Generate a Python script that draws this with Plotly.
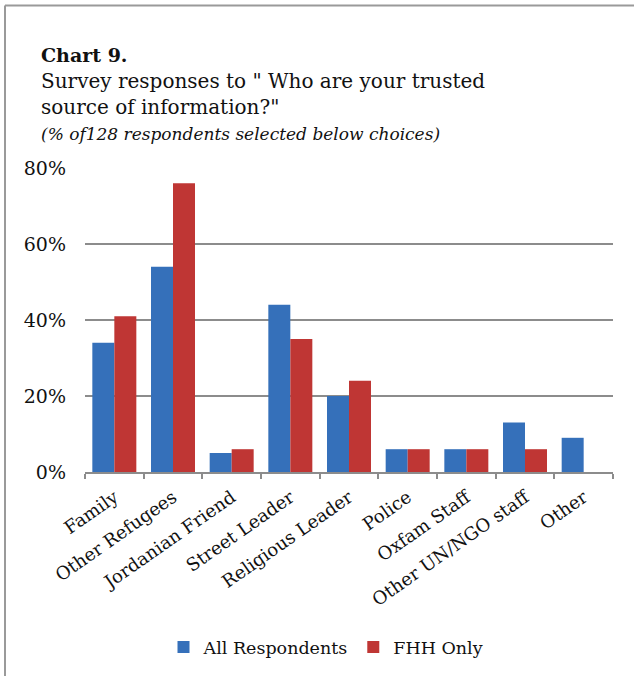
import plotly.graph_objects as go

# Survey data: share of 128 respondents naming each trusted source (%)
categories = ["Family", "Other Refugees", "Jordanian Friend", "Street Leader",
              "Religious Leader", "Police", "Oxfam Staff", "Other UN/NGO staff", "Other"]
all_respondents = [34, 54, 5, 44, 20, 6, 6, 13, 9]
fhh_only = [41, 76, 6, 35, 24, 6, 6, 6, 0]
y_ticks = [0, 20, 40, 60, 80]
y_tick_labels = ["0%", "20%", "40%", "60%", "80%"]

W, H = 634, 676
L, R, T, B = 85, 21, 168, 203
FONT = "DejaVu Serif"
GRID = "#8c8c8c"


def px_x(x):
    return (x - L) / (W - L - R)


def px_y(y):
    return (H - B - y) / (H - T - B)


fig = go.Figure()
fig.add_bar(x=categories, y=all_respondents, name="All Respondents",
            marker=dict(color="#3570ba", line=dict(width=0)))
fig.add_bar(x=categories, y=fhh_only, name="FHH Only",
            marker=dict(color="#bf3634", line=dict(width=0)))

fig.update_layout(
    width=W, height=H,
    margin=dict(l=L, r=R, t=T, b=B),
    paper_bgcolor="white", plot_bgcolor="white",
    barmode="group", bargap=0.25, bargroupgap=0,
    font=dict(family=FONT, color="#111111"),
    showlegend=True,
    legend=dict(orientation="h", x=px_x(326), xanchor="center",
                y=px_y(647), yanchor="middle",
                font=dict(size=17.5, family=FONT), itemwidth=30,
                tracegroupgap=0, traceorder="normal"),
)

fig.update_xaxes(
    showgrid=False, showline=True, linecolor=GRID, linewidth=2,
    ticks="outside", tickson="boundaries", ticklen=5, tickcolor=GRID, tickwidth=2,
    tickangle=-35, ticklabelstandoff=6, tickfont=dict(size=18, family=FONT),
)
fig.update_yaxes(
    range=[0, 80], tickvals=y_ticks, ticktext=y_tick_labels,
    showgrid=True, gridcolor=GRID, gridwidth=1.5,
    showline=False, zeroline=False, ticks="", ticklabelstandoff=18,
    tickfont=dict(size=19, family=FONT),
)

# Title block
titles = [
    ("<b>Chart 9.</b>", 55, 19),
    ("Survey responses to \" Who are your trusted", 81, 20),
    ("source of information?\"", 107, 20),
    ("<i>(% of128 respondents selected below choices)</i>", 134, 17),
]
for text, yc, size in titles:
    fig.add_annotation(text=text, xref="paper", yref="paper",
                       x=px_x(39), y=px_y(yc), xanchor="left", yanchor="middle",
                       showarrow=False, font=dict(size=size, family=FONT, color="#111111"))

# Frame around the chart
fig.add_shape(type="line", xref="paper", yref="paper",
              x0=px_x(5), x1=px_x(5), y0=px_y(5), y1=px_y(H + 2),
              line=dict(color="#9a9a9a", width=2))
fig.add_shape(type="line", xref="paper", yref="paper",
              x0=px_x(5), x1=px_x(W + 2), y0=px_y(5), y1=px_y(5),
              line=dict(color="#9a9a9a", width=2))

fig.write_html("out.html")
